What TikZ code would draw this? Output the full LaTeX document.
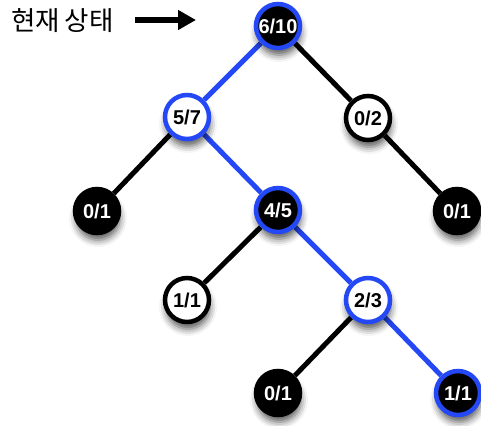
\documentclass[tikz,border=0pt]{standalone}
\usepackage{fontspec}
\setmainfont{Liberation Sans}
\newfontfamily\krfont{Noto Sans CJK KR}
\usetikzlibrary{arrows.meta,backgrounds,shadows.blur}
\definecolor{pathblue}{RGB}{36,72,245}
\tikzset{
  x=1pt, y=-1pt,
  treenode/.style={circle, minimum size=44pt, inner sep=0pt, line width=4.5pt,
    font=\bfseries\fontsize{20}{20}\selectfont,
    blur shadow={shadow xshift=1pt, shadow yshift=-7pt, shadow blur radius=7pt, shadow opacity=65}},
  darknode/.style={treenode, fill=black, text=white, draw=black},
  lightnode/.style={treenode, fill=white, text=black, draw=black},
  onpath/.style={draw=pathblue},
  edge/.style={line width=5pt, draw=black},
  pathedge/.style={line width=5pt, draw=pathblue},
}
\begin{document}
\begin{tikzpicture}
\useasboundingbox (0,0) rectangle (481,425);
% tree nodes
\node[darknode, onpath]  (root) at (278,26)  {6/10};
\node[lightnode, onpath] (a)    at (187,117) {5/7};
\node[lightnode]         (b)    at (368,118) {0/2};
\node[darknode]          (aa)   at (97,211)  {0/1};
\node[darknode, onpath]  (ab)   at (278,210) {4/5};
\node[darknode]          (bb)   at (457,211) {0/1};
\node[lightnode]         (aba)  at (187,300) {1/1};
\node[lightnode, onpath] (abb)  at (368,300) {2/3};
\node[darknode]          (abba) at (278,393) {0/1};
\node[darknode, onpath]  (abbb) at (458,393) {1/1};
% current-state label and pointer
\node[font=\krfont\fontsize{26.5}{26.5}\selectfont, anchor=west, inner sep=0pt] (label) at (11,21)
  {\spaceskip=5pt 현재 상태};
\coordinate (ptrstart) at (135,20);
\coordinate (ptrend) at (196,20);
\draw[line width=6pt, -{Triangle[length=18pt,width=19pt]}] (ptrstart) -- (ptrend);
% connectors
\begin{pgfonlayer}{background}
\draw[pathedge] (root) -- (a);
\draw[edge]     (root) -- (b);
\draw[edge]     (a) -- (aa);
\draw[pathedge] (a) -- (ab);
\draw[edge]     (b) -- (bb);
\draw[edge]     (ab) -- (aba);
\draw[pathedge] (ab) -- (abb);
\draw[edge]     (abb) -- (abba);
\draw[pathedge] (abb) -- (abbb);
\end{pgfonlayer}
\end{tikzpicture}
\end{document}
